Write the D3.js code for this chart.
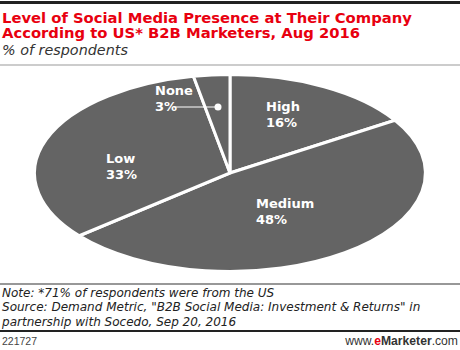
<!DOCTYPE html>
<html><head><meta charset="utf-8">
<script src="https://cdn.jsdelivr.net/npm/d3@7"></script>
<style>body{margin:0;background:#fff}svg{display:block}</style>
</head><body>
<svg id="c" width="460" height="350"></svg>
<script>
const titleLines = ["Level of Social Media Presence at Their Company", "According to US* B2B Marketers, Aug 2016"];
const subtitle = "% of respondents";
const categories = ["High", "Medium", "Low", "None"];
const values = [16, 48, 33, 3];
const noteLines = ["Note: *71% of respondents were from the US", "Source: Demand Metric, \"B2B Social Media: Investment & Returns\" in", "partnership with Socedo, Sep 20, 2016"];
const chartId = "221727";

const svg = d3.select("#c");
const red = "#e8000f", grey = "#646464";
const cx = 230, cy = 173, rx = 195.5, ry = 98.5;

function fit(sel, refNode, target, base) {
  sel.attr("font-size", base);
  const w = refNode.getComputedTextLength();
  sel.attr("font-size", base * target / w);
}

// header
svg.append("rect").attr("x",0).attr("y",1).attr("width",460).attr("height",3).attr("fill","#222");
const tt = svg.selectAll(".t").data(titleLines).join("text")
  .attr("x",2).attr("y",(d,i)=>22.5+i*15.5)
  .attr("font-family","DejaVu Sans, Verdana, sans-serif").attr("font-weight","bold")
  .attr("fill",red).text(d=>d);
fit(tt, tt.nodes()[0], 410, 14);
const st = svg.append("text").attr("x",2).attr("y",55).attr("font-family","DejaVu Sans, Verdana, sans-serif")
  .attr("font-style","italic").attr("fill","#333").text(subtitle);
fit(st, st.node(), 126, 13);
svg.append("rect").attr("x",0).attr("y",64.5).attr("width",460).attr("height",1).attr("fill","#999");

// pie as ellipse
const pie = d3.pie().sort(null).value(d=>d)(values);
const arc = d3.arc().innerRadius(0).outerRadius(1);
const g = svg.append("g").attr("transform",`translate(${cx},${cy}) scale(${rx},${ry})`);
g.selectAll("path").data(pie).join("path").attr("d",arc).attr("fill",grey)
  .attr("stroke","#fff").attr("stroke-width",3).attr("stroke-linejoin","miter").attr("vector-effect","non-scaling-stroke");

// labels
const labelPos = {High:[266,111], Medium:[256,208], Low:[106,163], None:[155,95]};
const lf = "DejaVu Sans, Verdana, sans-serif";
pie.forEach((p,i)=>{
  const [x,y] = labelPos[categories[i]];
  const t = svg.append("text").attr("x",x).attr("y",y).attr("font-family",lf).attr("font-weight","bold")
    .attr("font-size",13).attr("fill","#fff");
  t.append("tspan").attr("x",x).text(categories[i]);
  t.append("tspan").attr("x",x).attr("dy",16).text(values[i]+"%");
});
// leader for None
svg.append("line").attr("x1",174).attr("y1",107).attr("x2",218).attr("y2",107).attr("stroke","#fff").attr("stroke-width",1);
svg.append("circle").attr("cx",218).attr("cy",107).attr("r",3.5).attr("fill","#fff");

// footer
svg.append("rect").attr("x",0).attr("y",283.5).attr("width",460).attr("height",1).attr("fill","#333");
const nt = svg.selectAll(".n").data(noteLines).join("text")
  .attr("x",2).attr("y",(d,i)=>297+i*14.3)
  .attr("font-family","DejaVu Sans, Verdana, sans-serif").attr("font-style","italic")
  .attr("fill","#222").text(d=>d);
fit(nt, nt.nodes()[1], 419, 12);
svg.append("rect").attr("x",0).attr("y",330).attr("width",460).attr("height",2).attr("fill","#222");
svg.append("text").attr("x",2).attr("y",345).attr("font-family","Liberation Sans, Arial, sans-serif")
  .attr("font-size",10.5).attr("fill","#444").text(chartId);
const w = svg.append("text").attr("x",458).attr("y",345).attr("text-anchor","end")
  .attr("font-family","Liberation Sans, Arial, sans-serif").attr("fill","#333");
w.append("tspan").text("www.");
w.append("tspan").attr("fill",red).attr("font-weight","bold").text("e");
w.append("tspan").attr("font-weight","bold").text("Marketer");
w.append("tspan").text(".com");
fit(w, w.node(), 113, 11);
</script>
</body></html>
